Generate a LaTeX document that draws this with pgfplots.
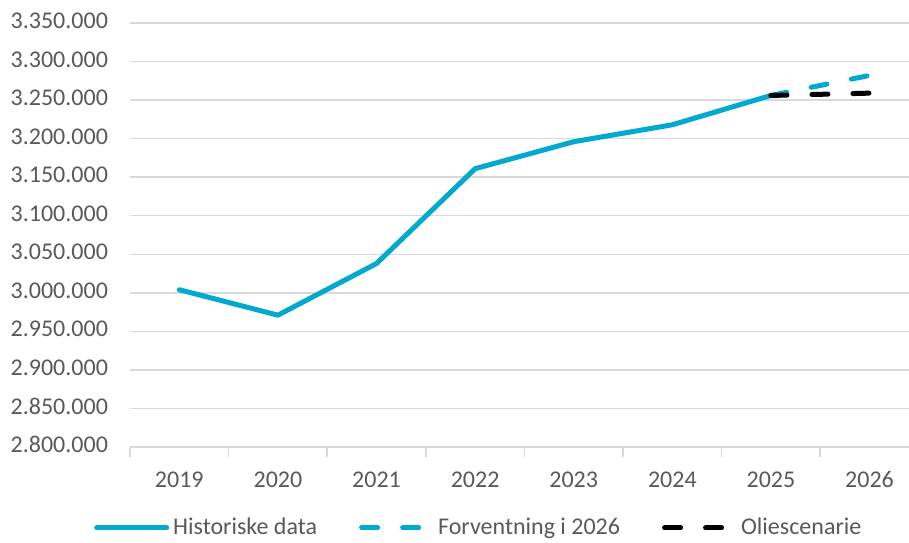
\documentclass[border=0pt]{standalone}
\usepackage{pgfplots}
\pgfplotsset{compat=1.18}
\usepackage{fontspec}
\setmainfont{Carlito}
\definecolor{histc}{HTML}{00A9CE}
\definecolor{gridc}{HTML}{D9D9D9}
\definecolor{txtc}{HTML}{595959}
\begin{document}
\begin{tikzpicture}
\path[use as bounding box] (0,0) rectangle (454.5pt,271pt);
\begin{axis}[
  at={(65pt,47.5pt)}, anchor=south west,
  scale only axis, width=389.5pt, height=212pt,
  xmin=-0.5, xmax=7.4, ymin=2800000, ymax=3350000,
  ytick={2800000,2850000,2900000,2950000,3000000,3050000,3100000,3150000,3200000,3250000,3300000,3350000},
  xtick={0,1,2,3,4,5,6,7},
  xticklabels={2019,2020,2021,2022,2023,2024,2025,2026},
  major tick length=0pt, tick align=inside,
  extra x ticks={-0.5,0.5,1.5,2.5,3.5,4.5,5.5,6.5},
  extra x tick labels={},
  extra x tick style={major tick length=5pt, tick align=outside, major tick style={gridc, line width=0.75pt}, xmajorgrids=false},
  separate axis lines,
  axis x line*=bottom, axis y line*=left,
  x axis line style={draw=gridc, line width=0.75pt, -},
  y axis line style={draw=none},
  ymajorgrids, major grid style={gridc, line width=0.75pt},
  scaled y ticks=false,
  /pgf/number format/assume math mode=true,
  typeset ticklabels with strut,
  tick label style={font=\fontsize{12}{14}\selectfont, text=txtc},
  yticklabel style={xshift=-7.5pt, /pgf/number format/.cd, fixed, precision=0, 1000 sep={.}},
  xticklabel style={anchor=north, yshift=-7pt},
  legend image code/.code={\draw[#1, line width=2.5pt] (0pt,0pt) -- (35pt,0pt);},
  legend style={draw=none, fill=none, legend columns=3, at={(0.449,-0.191)}, anchor=center,
    font=\fontsize{12}{14}\selectfont, text=txtc,
    /tikz/every even column/.append style={column sep=19pt}},
  legend cell align=left,
]
\addplot[histc, line width=2.5pt, line join=round, line cap=round] coordinates {(0,3004000) (1,2971000) (2,3038000) (3,3161000) (4,3196000) (5,3218000) (6,3256000)};
\addlegendentry{Historiske data}
\addplot[histc, line width=2.5pt, line cap=round, dash pattern=on 8pt off 12.5pt] coordinates {(6,3256000) (7,3282000)};
\addlegendentry{Forventning i 2026}
\addplot[black, line width=2.5pt, line cap=round, dash pattern=on 8pt off 12.5pt] coordinates {(6,3256000) (7,3259000)};
\addlegendentry{Oliescenarie}
\end{axis}
\end{tikzpicture}
\end{document}
